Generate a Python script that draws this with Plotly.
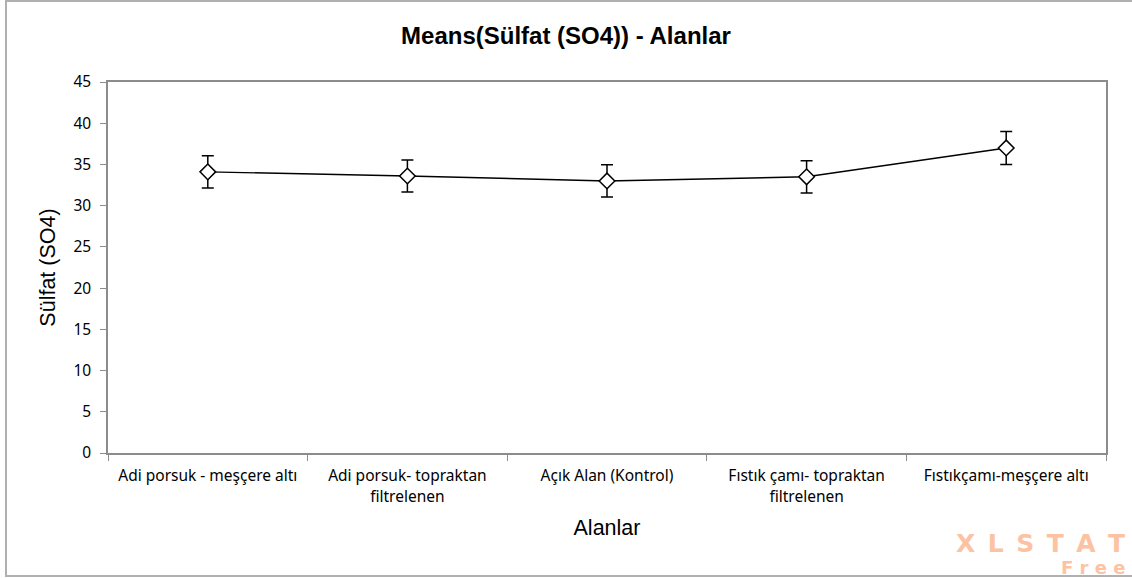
import plotly.graph_objects as go

categories = [
    "Adi porsuk - meşçere altı",
    "Adi porsuk- topraktan<br>filtrelenen",
    "Açık Alan (Kontrol)",
    "Fıstık çamı- topraktan<br>filtrelenen",
    "Fıstıkçamı-meşçere altı",
]
means = [34.1, 33.6, 33.0, 33.5, 37.0]
errors = [1.95, 1.95, 1.95, 1.95, 2.0]
y_ticks = [0, 5, 10, 15, 20, 25, 30, 35, 40, 45]

fig = go.Figure()
fig.add_trace(go.Scatter(
    x=categories, y=means,
    mode="lines+markers",
    line=dict(color="black", width=1.4),
    marker=dict(symbol="diamond", size=12, color="white", line=dict(color="black", width=1.5)),
    error_y=dict(type="data", array=errors, visible=True, color="black", thickness=1.5, width=6),
    showlegend=False,
))

axis_color = "#8c8c8c"
tick_font = dict(family="Noto Sans", size=15.5, color="black")
wm_color = "#fcc2a2"
EN = "\u2002"

fig.update_layout(
    width=1132, height=578,
    paper_bgcolor="white", plot_bgcolor="white",
    margin=dict(l=108, r=26, t=82, b=125),
    title=dict(text="<b>Means(Sülfat (SO4)) - Alanlar</b>", x=0.5, xanchor="center",
               y=1 - 36 / 578, yanchor="middle",
               font=dict(family="Liberation Sans", size=24, color="black")),
    xaxis=dict(
        type="category", range=[-0.5, 4.5],
        showline=True, linecolor=axis_color, linewidth=1.5, mirror=True,
        showgrid=False, zeroline=False,
        ticks="outside", tickson="boundaries", ticklen=6, tickcolor=axis_color,
        tickfont=tick_font, ticklabelstandoff=8,
        title=dict(text="Alanlar", font=dict(family="Liberation Sans", size=21.5, color="black"), standoff=14),
    ),
    yaxis=dict(
        range=[0, 45], tickvals=y_ticks,
        showline=True, linecolor=axis_color, linewidth=1.5, mirror=True,
        showgrid=False, zeroline=False,
        ticks="outside", ticklen=6, tickcolor=axis_color,
        tickfont=dict(family="Noto Sans", size=15.5, color="black"), ticklabelstandoff=6,
        title=dict(text="Sülfat (SO4)", font=dict(family="Liberation Sans", size=21.5, color="black"), standoff=12),
    ),
    shapes=[dict(type="rect", xref="paper", yref="paper",
                 x0=(6 - 108) / 998, x1=(1140 - 108) / 998,
                 y0=(453 - 576) / 371, y1=(453 - 1) / 371,
                 line=dict(color="#b0b0b0", width=2), fillcolor="rgba(0,0,0,0)", layer="below")],
    annotations=[
        dict(text="<b>" + EN.join("XLSTAT") + "</b>", xref="paper", yref="paper",
             x=(1127 - 108) / 998, y=(453 - 543) / 371, xanchor="right", yanchor="middle",
             showarrow=False, font=dict(family="DejaVu Sans", size=25, color=wm_color, weight="bold")),
        dict(text="<b>" + " ".join("Free") + "</b>", xref="paper", yref="paper",
             x=(1127 - 108) / 998, y=(453 - 567.5) / 371, xanchor="right", yanchor="middle",
             showarrow=False, font=dict(family="DejaVu Sans", size=18, color=wm_color, weight="bold")),
    ],
)

fig.write_html("out.html", config={"displayModeBar": False},
               post_script="document.body.style.margin='0px';")
